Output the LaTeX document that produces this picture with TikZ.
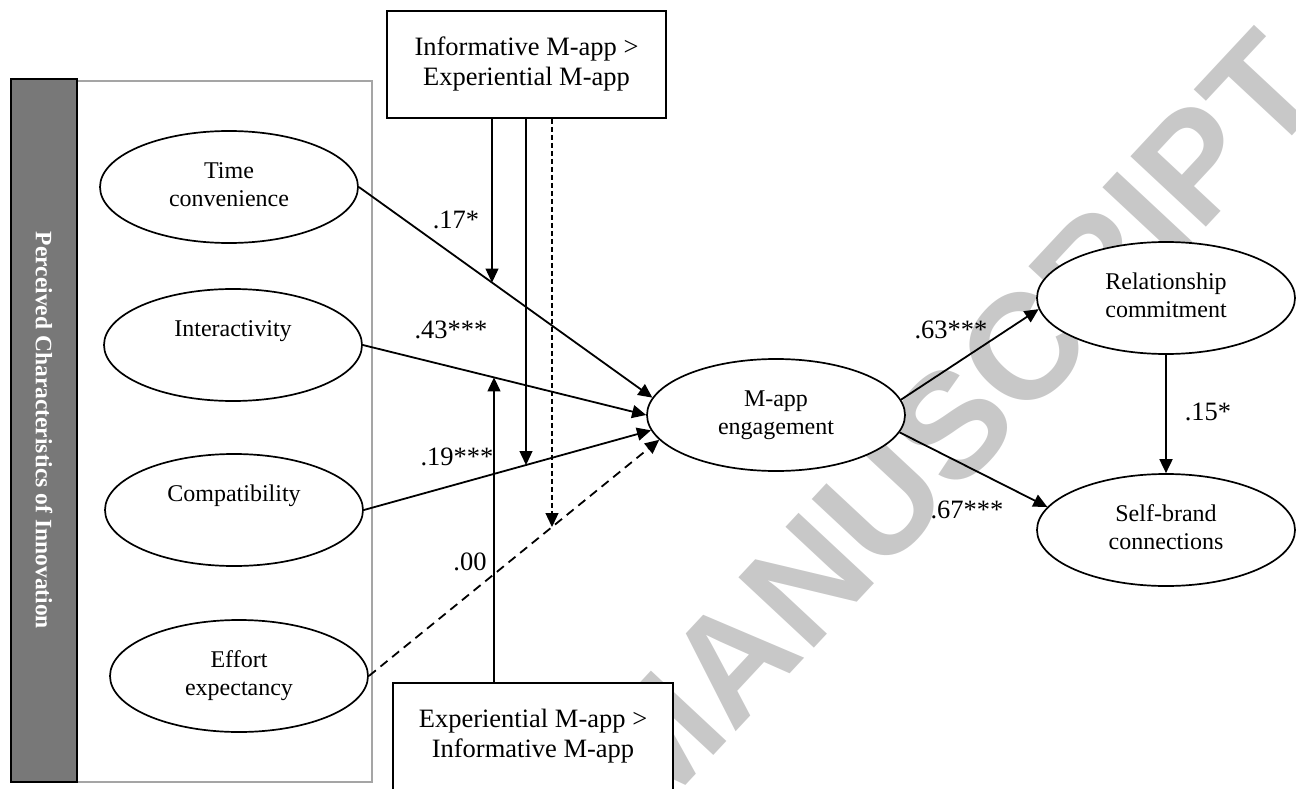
\documentclass[tikz,border=0pt]{standalone}
\usepackage{fontspec}
\setmainfont{Liberation Serif}
\newfontfamily\wmfont{Liberation Sans}
\usetikzlibrary{arrows.meta,shapes.geometric,calc,intersections}
\definecolor{barfill}{RGB}{120,120,120}
\definecolor{boxline}{RGB}{165,165,165}
\definecolor{wmgray}{RGB}{200,200,200}
\begin{document}
\begin{tikzpicture}[x=1pt,y=-1pt,
  every node/.style={font=\fontsize{24}{28}\selectfont},
  latent/.style={ellipse, draw, line width=1.7pt, fill=white, minimum width=258pt, minimum height=112pt, inner sep=0pt, align=center},
  modbox/.style={rectangle, draw, line width=1.7pt, fill=white, minimum width=279pt, minimum height=107pt, inner sep=0pt, align=center, font=\fontsize{26.5}{30}\selectfont},
  conn/.style={line width=1.8pt, -{Triangle[length=14pt,width=13pt]}},
  modarr/.style={line width=1.2pt, -{Triangle[length=14pt,width=13pt]}},
  bigdash/.style={dash pattern=on 9pt off 6pt},
  smalldash/.style={dash pattern=on 5pt off 3pt},
  coef/.style={inner sep=0pt, font=\fontsize{26.5}{30}\selectfont}
]
\useasboundingbox (0,0) rectangle (1296,789);

% watermark
\node[rotate=47, text=wmgray, font=\wmfont\bfseries\fontsize{150}{150}\selectfont] (wmk) at (952,425) {MANUSCRIPT};

% group frame and side bar
\node[draw=boxline, line width=1.6pt, minimum width=295pt, minimum height=701pt, inner sep=0pt] (grp) at (224.5,431.5) {};
\node[draw, line width=1.3pt, fill=barfill, rotate=-90, minimum width=703pt, minimum height=66pt, inner sep=0pt, text=white, font=\bfseries\fontsize{23.5}{28}\selectfont] (bar) at (44,430.5) {Perceived Characteristics of Innovation};

% latent variables
\node[latent] (tc) at (229,187) {\strut Time\\convenience\strut};
\node[latent] (ia) at (233,345) {\strut Interactivity\\\strut};
\node[latent] (cp) at (234,510) {\strut Compatibility\\\strut};
\node[latent] (ee) at (239,676) {\strut Effort\\expectancy\strut};
\node[latent] (me) at (776,415) {\strut M-app\\engagement\strut};
\node[latent] (rc) at (1166,298) {\strut Relationship\\commitment\strut};
\node[latent] (sb) at (1166,530) {\strut Self-brand\\connections\strut};

% moderator boxes
\node[modbox] (top) at (526.5,64.5) {\strut Informative M-app >\\Experiential M-app\strut};
\node[modbox, minimum width=280pt] (bot) at (533,736.5) {\strut Experiential M-app >\\Informative M-app\strut};

% structural paths
\draw[conn, name path=L1] (tc.east) -- (me.172);
\draw[conn, name path=L4] (ia.east) -- (me.180);
\draw[conn, name path=L2] (cp.east) -- (me.187);
\draw[conn, bigdash, name path=L3] (ee.east) -- (me.192);
\draw[conn] (me.7) -- (rc.185);
\draw[conn] (me.-8) -- (sb.169);
\draw[conn] (rc.south) -- (sb.north);

% moderation points
\path[name path=V1] (492,0) -- (492,789);
\path[name path=V2] (526,0) -- (526,789);
\path[name path=V3] (552,0) -- (552,789);
\path[name path=V4] (494,0) -- (494,789);
\path[name intersections={of=L1 and V1, by=m1}];
\path[name intersections={of=L2 and V2, by=m2}];
\path[name intersections={of=L3 and V3, by=m3}];
\path[name intersections={of=L4 and V4, by=m4}];

\draw[modarr] (m1 |- top.south) -- (m1);
\draw[modarr] (m2 |- top.south) -- (m2);
\draw[modarr, smalldash] (m3 |- top.south) -- (m3);
\draw[modarr] (m4 |- bot.north) -- (m4);

% coefficients
\node[coef] (c17) at (456,220) {.17*};
\node[coef] (c43) at (451,330) {.43***};
\node[coef] (c19) at (457,457) {.19***};
\node[coef] (c00) at (470,562) {.00};
\node[coef] (c63) at (951,330) {.63***};
\node[coef] (c67) at (967,510) {.67***};
\node[coef] (c15) at (1208,412) {.15*};
\end{tikzpicture}
\end{document}
